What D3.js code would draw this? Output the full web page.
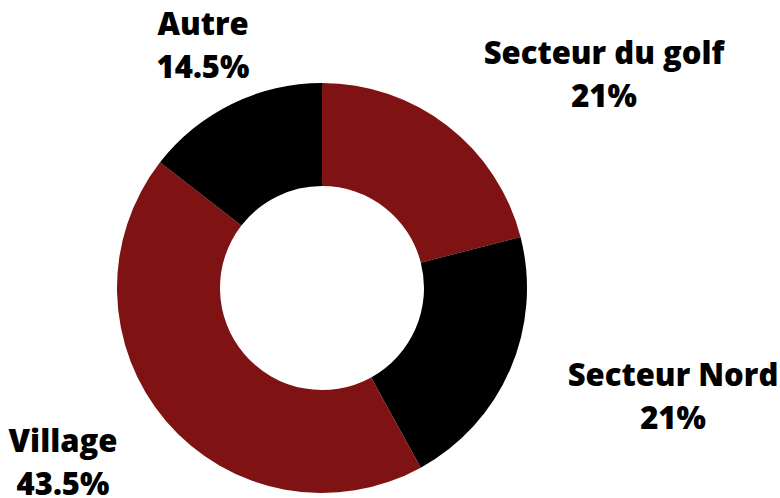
<!DOCTYPE html>
<html>
<head>
<meta charset="utf-8">
<script src="https://cdn.jsdelivr.net/npm/d3@7"></script>
<style>
  body { margin: 0; background: #fff; }
  text { font-family: "Open Sans", sans-serif; font-weight: 800; fill: #000; }
</style>
</head>
<body>
<div id="chart"></div>
<script>
// slices, clockwise from 12 o'clock
const categories = ["Secteur du golf", "Secteur Nord", "Village", "Autre"];
const shares = [21, 21, 43.5, 14.5];
const pctLabels = ["21%", "21%", "43.5%", "14.5%"];
const colors = ["#7f1212", "#000000", "#7f1212", "#000000"];

// where each label block sits (centre x, first baseline y)
const labelAt = [[604, 64], [673, 386], [63, 452], [203, 35]];

const width = 780, height = 498;
const cx = 322, cy = 288;
const outerR = 205, innerR = 102;

const svg = d3.select("#chart").append("svg")
  .attr("width", width)
  .attr("height", height);

const pie = d3.pie().sort(null).value(d => d);
const arc = d3.arc().innerRadius(innerR).outerRadius(outerR);

const g = svg.append("g").attr("transform", `translate(${cx},${cy})`);

g.selectAll("path")
  .data(pie(shares))
  .enter().append("path")
  .attr("d", arc)
  .attr("fill", (d, i) => colors[i]);

const labels = svg.selectAll("g.lbl")
  .data(categories)
  .enter().append("g")
  .attr("class", "lbl")
  .attr("transform", (d, i) => `translate(${labelAt[i][0]},${labelAt[i][1]})`);

labels.append("text")
  .attr("text-anchor", "middle")
  .style("font-size", "31px")
  .text(d => d);

labels.append("text")
  .attr("text-anchor", "middle")
  .attr("y", 43)
  .style("font-size", "31px")
  .text((d, i) => pctLabels[i]);
</script>
</body>
</html>
